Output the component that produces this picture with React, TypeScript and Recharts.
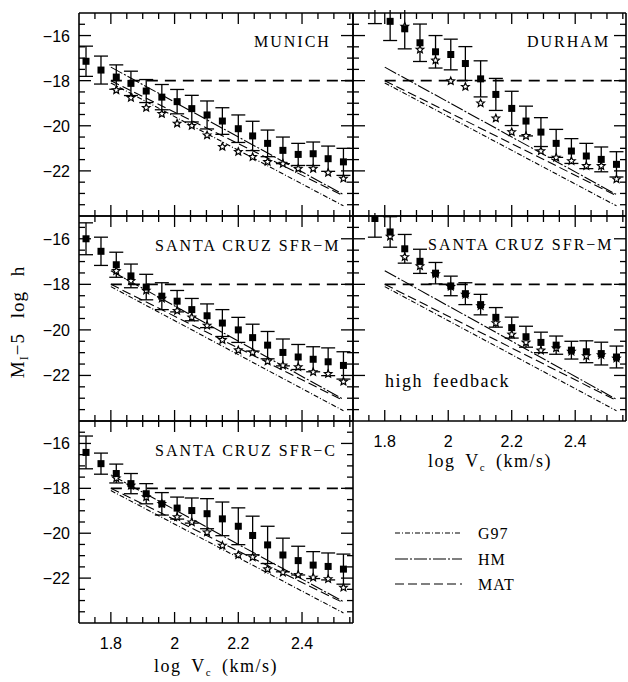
import React from 'react';
import { ComposedChart, Scatter, Line, XAxis, YAxis, ErrorBar } from 'recharts';

// log Vc bins (shared by every panel)
const LOG_VC = [1.722, 1.769, 1.817, 1.863, 1.911, 1.96, 2.008, 2.054, 2.102, 2.15, 2.2, 2.245, 2.292, 2.34, 2.388, 2.435, 2.482, 2.53];

const X_DOMAIN = [1.7, 2.56];
const Y_DOMAIN = [-24, -15];
const X_TICKS = [1.75, 1.8, 1.85, 1.9, 1.95, 2, 2.05, 2.1, 2.15, 2.2, 2.25, 2.3, 2.35, 2.4, 2.45, 2.5, 2.55];
const X_MAJOR = [1.8, 2, 2.2, 2.4];
const Y_TICKS = [-15.5, -16, -16.5, -17, -17.5, -18, -18.5, -19, -19.5, -20, -20.5, -21, -21.5, -22, -22.5, -23, -23.5];
const Y_MAJOR = [-16, -18, -20, -22];

// observed TF relations
const TF_X = [1.8, 2.53];
const G97_Y = [-18.1, -23.55];
const HM_Y = [-17.4, -23.05];
const MAT_Y = [-18.0, -23.1];
// magnitude limit
const CUT_X = [1.8, 2.56];
const CUT_Y = [-18, -18];

// MUNICH
const MUNICH_SQ = [-17.14, -17.53, -17.84, -18.12, -18.46, -18.73, -18.93, -19.24, -19.52, -19.79, -20.13, -20.45, -20.78, -21.09, -21.27, -21.24, -21.46, -21.6];
const MUNICH_ERR = [0.67, 0.62, 0.54, 0.54, 0.51, 0.56, 0.54, 0.59, 0.62, 0.59, 0.61, 0.65, 0.59, 0.59, 0.49, 0.52, 0.56, 0.6];
const MUNICH_STAR = [null, null, -18.42, -18.76, -19.2, -19.47, -19.9, -20.0, -20.42, -20.93, -21.15, -21.38, -21.6, -21.68, -21.9, -21.9, -22.08, -22.34];

// DURHAM
const DURHAM_SQ = [null, -14.85, -15.37, -15.7, -16.32, -16.72, -16.84, -17.24, -17.92, -18.61, -19.23, -19.79, -20.28, -20.78, -21.12, -21.34, -21.49, -21.71];
const DURHAM_ERR = [null, 0.62, 0.85, 0.89, 0.83, 0.72, 0.68, 0.75, 0.8, 0.71, 0.76, 0.66, 0.64, 0.62, 0.55, 0.56, 0.55, 0.56];
const DURHAM_STAR = [null, null, null, -15.6, -16.62, -17.1, -18.02, -18.27, -19.0, -19.67, -20.28, -20.45, -21.12, -21.41, -21.56, -21.78, -21.78, -22.37];

// SANTA CRUZ SFR-M
const SCM_SQ = [-16.0, -16.55, -17.14, -17.63, -18.12, -18.52, -18.74, -19.11, -19.38, -19.7, -20.0, -20.34, -20.67, -20.99, -21.19, -21.29, -21.4, -21.56];
const SCM_ERR = [0.7, 0.62, 0.55, 0.52, 0.56, 0.59, 0.47, 0.49, 0.52, 0.59, 0.55, 0.59, 0.6, 0.59, 0.55, 0.55, 0.61, 0.6];
const SCM_STAR = [null, null, -17.41, -17.85, -18.27, -18.62, -19.16, -19.45, -19.81, -20.44, -20.89, -20.99, -21.38, -21.56, -21.63, -21.85, -21.93, -22.27];

// SANTA CRUZ SFR-M, high feedback
const SCH_SQ = [null, -15.11, -15.7, -16.44, -16.99, -17.51, -18.07, -18.41, -18.89, -19.45, -19.9, -20.3, -20.55, -20.67, -20.89, -20.96, -21.04, -21.19];
const SCH_ERR = [null, 0.82, 0.67, 0.63, 0.53, 0.47, 0.43, 0.48, 0.45, 0.43, 0.46, 0.46, 0.45, 0.4, 0.39, 0.48, 0.5, 0.48];
const SCH_STAR = [null, null, -15.9, -16.8, -17.2, -17.55, -18.1, -18.45, -18.95, -19.7, -20.2, -20.55, -20.9, -20.8, -20.95, -21.15, -21.1, -21.25];

// SANTA CRUZ SFR-C
const SCC_SQ = [-16.4, -16.9, -17.34, -17.79, -18.24, -18.69, -18.88, -18.99, -19.13, -19.36, -19.69, -20.1, -20.52, -20.97, -21.22, -21.42, -21.48, -21.6];
const SCC_ERR = [0.73, 0.47, 0.42, 0.45, 0.45, 0.5, 0.49, 0.56, 0.67, 0.75, 0.82, 0.86, 0.83, 0.75, 0.64, 0.6, 0.6, 0.67];
const SCC_STAR = [null, null, -17.55, -17.87, -18.39, -18.69, -19.28, -19.51, -19.96, -20.55, -20.97, -21.07, -21.6, -21.75, -21.85, -21.97, -22.04, -22.42];

const SERIF = '"Liberation Serif", "Times New Roman", serif';
const SANS = '"Liberation Sans", Arial, sans-serif';

const G97_DASH = '5 2 1 2';
const HM_DASH = '13 2 2 2';
const MAT_DASH = '9 4';

const pairs = (xs: number[], ys: (number | null)[], es?: (number | null)[]) =>
  xs
    .map((x, i) => ({ x, y: ys[i], e: es ? es[i] : 0 }))
    .filter((p) => p.y != null);

const near = (v: number, list: number[]) => list.some((m) => Math.abs(m - v) < 1e-6);

const SquareShape = (props: any) => {
  const { cx, cy } = props;
  if (cx == null || cy == null) return null;
  return <rect x={cx - 3.5} y={cy - 3.5} width={7} height={7} fill="#000" />;
};

const StarShape = (props: any) => {
  const { cx, cy } = props;
  if (cx == null || cy == null) return null;
  const pts: string[] = [];
  for (let i = 0; i < 10; i++) {
    const r = i % 2 === 0 ? 4 : 1.8;
    const a = -Math.PI / 2 + (i * Math.PI) / 5;
    pts.push(`${cx + r * Math.cos(a)},${cy + r * Math.sin(a)}`);
  }
  return <polygon points={pts.join(' ')} fill="#fff" stroke="#000" strokeWidth={1.2} />;
};

const BottomTick = ({ x, y, payload, showLabel }: any) => {
  const major = near(payload.value, X_MAJOR);
  return (
    <g>
      <line x1={x} y1={y} x2={x} y2={y - (major ? 11 : 6)} stroke="#000" strokeWidth={1.3} />
      {showLabel && major && (
        <text x={x} y={y + 26} textAnchor="middle" fontFamily={SANS} fontSize={16} fill="#000">
          {String(Number(payload.value.toFixed(1)))}
        </text>
      )}
    </g>
  );
};

const TopTick = ({ x, y, payload }: any) => {
  const major = near(payload.value, X_MAJOR);
  return <line x1={x} y1={y} x2={x} y2={y + (major ? 11 : 6)} stroke="#000" strokeWidth={1.3} />;
};

const LeftTick = ({ x, y, payload, showLabel }: any) => {
  const major = near(payload.value, Y_MAJOR);
  return (
    <g>
      <line x1={x} y1={y} x2={x + (major ? 12 : 6)} y2={y} stroke="#000" strokeWidth={1.3} />
      {showLabel && major && (
        <text x={x - 9} y={y + 6} textAnchor="end" fontFamily={SANS} fontSize={16} fill="#000">
          {'\u2212' + Math.abs(payload.value)}
        </text>
      )}
    </g>
  );
};

const RightTick = ({ x, y, payload }: any) => {
  const major = near(payload.value, Y_MAJOR);
  return <line x1={x} y1={y} x2={x - (major ? 12 : 6)} y2={y} stroke="#000" strokeWidth={1.3} />;
};

interface PanelProps {
  left: number;
  top: number;
  width: number;
  height: number;
  yLabels?: boolean;
  xLabels?: boolean;
  squares: (number | null)[];
  errors: (number | null)[];
  stars: (number | null)[];
}

function Panel({ left, top, width, height, yLabels, xLabels, squares, errors, stars }: PanelProps) {
  const L = yLabels ? 60 : 2;
  const B = xLabels ? 32 : 2;
  const T = 2;
  const R = 2;
  const W = L + width + R + 1;
  const H = 1 + T + height + B;
  const axisLine = { stroke: '#000', strokeWidth: 1.6 };
  return (
    <div style={{ position: 'absolute', left: left - L, top: top - T - 1, width: W, height: H }}>
      <ComposedChart width={W} height={H} margin={{ top: 1, right: 1, bottom: 0, left: 0 }}>
        <XAxis
          xAxisId="b"
          type="number"
          dataKey="x"
          domain={X_DOMAIN}
          allowDataOverflow
          ticks={X_TICKS}
          interval={0}
          height={B}
          tickSize={0}
          tickMargin={0}
          tickLine={false}
          axisLine={axisLine}
          tick={(p: any) => <BottomTick {...p} showLabel={xLabels} />}
        />
        <XAxis
          xAxisId="t"
          orientation="top"
          type="number"
          dataKey="x"
          domain={X_DOMAIN}
          allowDataOverflow
          ticks={X_TICKS}
          interval={0}
          height={T}
          tickSize={0}
          tickMargin={0}
          tickLine={false}
          axisLine={axisLine}
          tick={(p: any) => <TopTick {...p} />}
        />
        <YAxis
          yAxisId="l"
          type="number"
          dataKey="y"
          domain={Y_DOMAIN}
          allowDataOverflow
          ticks={Y_TICKS}
          interval={0}
          width={L}
          tickSize={0}
          tickMargin={0}
          tickLine={false}
          axisLine={axisLine}
          tick={(p: any) => <LeftTick {...p} showLabel={yLabels} />}
        />
        <YAxis
          yAxisId="r"
          orientation="right"
          type="number"
          dataKey="y"
          domain={Y_DOMAIN}
          allowDataOverflow
          ticks={Y_TICKS}
          interval={0}
          width={R}
          tickSize={0}
          tickMargin={0}
          tickLine={false}
          axisLine={axisLine}
          tick={(p: any) => <RightTick {...p} />}
        />
        <Line xAxisId="b" yAxisId="l" data={pairs(CUT_X, CUT_Y)} dataKey="y" stroke="#000" strokeWidth={1.6} strokeDasharray="11 7" dot={false} isAnimationActive={false} />
        <Line xAxisId="b" yAxisId="l" data={pairs(TF_X, G97_Y)} dataKey="y" stroke="#000" strokeWidth={1.1} strokeDasharray={G97_DASH} dot={false} isAnimationActive={false} />
        <Line xAxisId="b" yAxisId="l" data={pairs(TF_X, HM_Y)} dataKey="y" stroke="#000" strokeWidth={1.1} strokeDasharray={HM_DASH} dot={false} isAnimationActive={false} />
        <Line xAxisId="b" yAxisId="l" data={pairs(TF_X, MAT_Y)} dataKey="y" stroke="#000" strokeWidth={1.1} strokeDasharray={MAT_DASH} dot={false} isAnimationActive={false} />
        <Scatter xAxisId="b" yAxisId="l" data={pairs(LOG_VC, stars)} dataKey="y" shape={StarShape} isAnimationActive={false} />
        <Scatter xAxisId="b" yAxisId="l" data={pairs(LOG_VC, squares, errors)} dataKey="y" shape={SquareShape} isAnimationActive={false}>
          <ErrorBar dataKey="e" direction="y" width={7} stroke="#000" strokeWidth={1.3} isAnimationActive={false} />
        </Scatter>
        {/* anchor series so the top/right frame axes get drawn */}
        <Line xAxisId="t" yAxisId="r" data={pairs(CUT_X, CUT_Y)} dataKey="y" stroke="none" dot={false} isAnimationActive={false} />
      </ComposedChart>
    </div>
  );
}

const labelStyle = { fontFamily: SERIF, fontSize: 16, letterSpacing: 2, fill: '#000' } as const;

export default function App() {
  return (
    <div style={{ position: 'absolute', left: 0, top: 0, width: 628, height: 682, background: '#fff' }}>
      <Panel left={79} top={13} width={274} height={203} yLabels squares={MUNICH_SQ} errors={MUNICH_ERR} stars={MUNICH_STAR} />
      <Panel left={353} top={13} width={273} height={203} squares={DURHAM_SQ} errors={DURHAM_ERR} stars={DURHAM_STAR} />
      <Panel left={79} top={216} width={274} height={205} yLabels squares={SCM_SQ} errors={SCM_ERR} stars={SCM_STAR} />
      <Panel left={353} top={216} width={273} height={205} xLabels squares={SCH_SQ} errors={SCH_ERR} stars={SCH_STAR} />
      <Panel left={79} top={421} width={274} height={202} yLabels xLabels squares={SCC_SQ} errors={SCC_ERR} stars={SCC_STAR} />

      <svg width={628} height={682} style={{ position: 'absolute', left: 0, top: 0, pointerEvents: 'none' }}>
        {/* panel names */}
        <text x={254} y={47} {...labelStyle}>MUNICH</text>
        <text x={527} y={47} {...labelStyle}>DURHAM</text>
        <text x={155} y={251} {...labelStyle}>SANTA CRUZ SFR{'\u2212'}M</text>
        <text x={428} y={250} {...labelStyle}>SANTA CRUZ SFR{'\u2212'}M</text>
        <text x={385} y={387} fontFamily={SERIF} fontSize={18} letterSpacing={1.5} wordSpacing={4}>high feedback</text>
        <text x={155} y={456} {...labelStyle}>SANTA CRUZ SFR{'\u2212'}C</text>

        {/* axis titles */}
        <text transform="translate(24 322) rotate(-90)" textAnchor="middle" fontFamily={SERIF} fontSize={19} letterSpacing={1} wordSpacing={9}>
          M<tspan fontSize={12} dy={4}>I</tspan><tspan dy={-4}>{'\u2212'}5 log h</tspan>
        </text>
        <text x={216} y={672} textAnchor="middle" fontFamily={SERIF} fontSize={18} letterSpacing={1.5} wordSpacing={4}>
          log V<tspan fontSize={11} dy={4}>c</tspan><tspan dy={-4}> (km/s)</tspan>
        </text>
        <text x={490} y={467} textAnchor="middle" fontFamily={SERIF} fontSize={18} letterSpacing={1.5} wordSpacing={4}>
          log V<tspan fontSize={11} dy={4}>c</tspan><tspan dy={-4}> (km/s)</tspan>
        </text>

        {/* legend */}
        <line x1={395} y1={533} x2={462} y2={533} stroke="#000" strokeWidth={1.1} strokeDasharray={G97_DASH} />
        <text x={478} y={539} fontFamily={SERIF} fontSize={16} letterSpacing={1}>G97</text>
        <line x1={395} y1={559} x2={462} y2={559} stroke="#000" strokeWidth={1.1} strokeDasharray={HM_DASH} />
        <text x={478} y={565} fontFamily={SERIF} fontSize={16} letterSpacing={1}>HM</text>
        <line x1={395} y1={584} x2={462} y2={584} stroke="#000" strokeWidth={1.1} strokeDasharray={MAT_DASH} />
        <text x={478} y={590} fontFamily={SERIF} fontSize={16} letterSpacing={1}>MAT</text>
      </svg>
    </div>
  );
}
